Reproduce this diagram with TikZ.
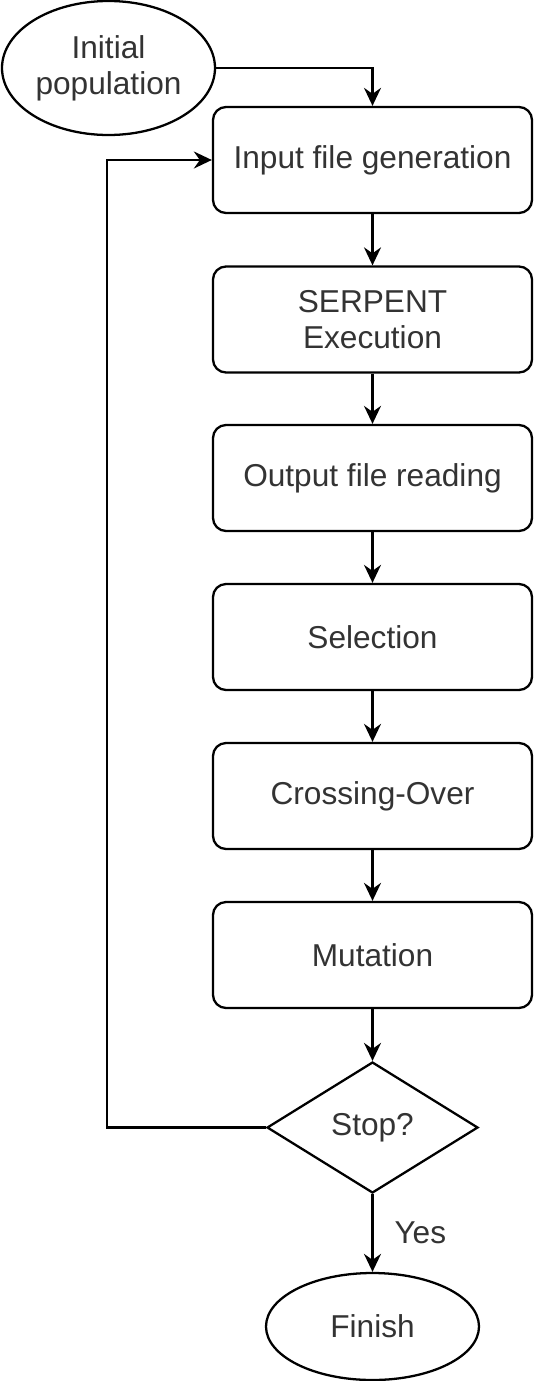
\documentclass[tikz,border=0pt]{standalone}
\usepackage{fontspec}
\setmainfont{Liberation Sans}
\usetikzlibrary{shapes.geometric,arrows.meta,positioning}

\begin{document}
\begin{tikzpicture}
[>={Stealth[length=3.6mm,width=3.4mm,inset=1.2mm]},line width=1.3pt,
stepbox/.style = {draw, rectangle, rounded corners=2.6mm, minimum width=6.38cm, minimum height=2.12cm, inner sep=0pt, text=black!80, align=center, font=\fontsize{18}{20.4}\selectfont},
term/.style = {draw, ellipse, inner sep=0pt, text=black!80, align=center, font=\fontsize{18}{20.4}\selectfont},
test/.style = {draw, diamond, inner sep=0pt, minimum width=4.22cm, minimum height=2.62cm, text=black!80, font=\fontsize{18}{20.4}\selectfont},]
\useasboundingbox (0,0) rectangle (10.68,-27.62);
\node (init) at (2.17,-1.36)[term,minimum width=4.26cm,minimum height=2.68cm] {Initial\\population};
\node (input) at (7.45,-3.20)[stepbox] {Input file generation};
\node (serpent) at (7.45,-6.39)[stepbox] {SERPENT\\Execution};
\node (output) at (7.45,-9.56)[stepbox] {Output file reading};
\node (select) at (7.45,-12.74)[stepbox] {Selection};
\node (cross) at (7.45,-15.92)[stepbox] {Crossing-Over};
\node (mutate) at (7.45,-19.10)[stepbox] {Mutation};
\node (stop) at (7.45,-22.55)[test] {Stop?};
\node (finish) at (7.45,-26.53)[term,minimum width=4.26cm,minimum height=2.14cm] {Finish};
\coordinate (back) at (2.14,0);

\draw[->] (init.east) -| (input.north);
\draw[->] (input)--(serpent);
\draw[->] (serpent)--(output);
\draw[->] (output)--(select);
\draw[->] (select)--(cross);
\draw[->] (cross)--(mutate);
\draw[->] (mutate)--(stop);
\draw[->] (stop)-- node[right=3mm,text=black!80,font=\fontsize{18}{20.4}\selectfont] {Yes} (finish);
\draw[->] (stop.west)--(stop.west -| back) |- (input.west);
\end{tikzpicture}
\end{document}
